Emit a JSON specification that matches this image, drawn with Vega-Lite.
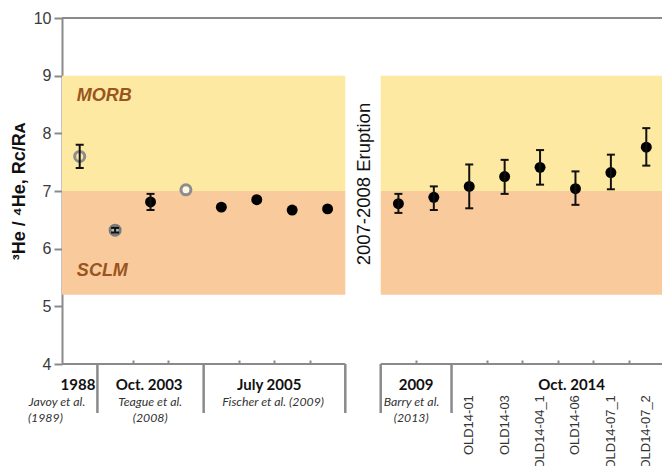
{
  "$schema": "https://vega.github.io/schema/vega-lite/v6.json",
  "autosize": {"type": "none"},
  "width": 602,
  "height": 346,
  "padding": {"left": 62, "top": 18, "right": 0, "bottom": 102},
  "background": "white",
  "config": {
    "view": {"stroke": null},
    "axis": {"grid": false, "labelFont": "Liberation Sans", "titleFont": "Liberation Sans"}
  },
  "datasets": {
    "zones": [
      {"x1": 0, "x2": 8, "y1": 7, "y2": 9, "zone": "MORB"},
      {"x1": 0, "x2": 8, "y1": 5.2, "y2": 7, "zone": "SCLM"},
      {"x1": 9, "x2": 17, "y1": 7, "y2": 9, "zone": "MORB"},
      {"x1": 9, "x2": 17, "y1": 5.2, "y2": 7, "zone": "SCLM"}
    ],
    "baseline": [{"x1": 0, "x2": 8}, {"x1": 9, "x2": 17}],
    "topline": [{"x1": 0, "x2": 17}],
    "dividers": [{"x": 1}, {"x": 4}, {"x": 8}, {"x": 9}, {"x": 11}],
    "samples": [
      {"x": 0.5, "v": 7.6, "lo": 7.4, "hi": 7.8, "style": "open"},
      {"x": 1.5, "v": 6.32, "lo": 6.28, "hi": 6.36, "style": "grey"},
      {"x": 2.5, "v": 6.81, "lo": 6.67, "hi": 6.95, "style": "filled"},
      {"x": 3.5, "v": 7.02, "lo": null, "hi": null, "style": "open2"},
      {"x": 4.5, "v": 6.72, "lo": null, "hi": null, "style": "filled"},
      {"x": 5.5, "v": 6.85, "lo": null, "hi": null, "style": "filled"},
      {"x": 6.5, "v": 6.67, "lo": null, "hi": null, "style": "filled"},
      {"x": 7.5, "v": 6.69, "lo": null, "hi": null, "style": "filled"},
      {"x": 9.5, "v": 6.78, "lo": 6.62, "hi": 6.95, "style": "filled"},
      {"x": 10.5, "v": 6.89, "lo": 6.67, "hi": 7.08, "style": "filled"},
      {"x": 11.5, "v": 7.08, "lo": 6.7, "hi": 7.46, "style": "filled"},
      {"x": 12.5, "v": 7.25, "lo": 6.95, "hi": 7.54, "style": "filled"},
      {"x": 13.5, "v": 7.41, "lo": 7.11, "hi": 7.71, "style": "filled"},
      {"x": 14.5, "v": 7.04, "lo": 6.76, "hi": 7.34, "style": "filled"},
      {"x": 15.5, "v": 7.32, "lo": 7.03, "hi": 7.63, "style": "filled"},
      {"x": 16.5, "v": 7.76, "lo": 7.44, "hi": 8.09, "style": "filled"}
    ],
    "headers": [
      {"text": "1988", "x": 0.45, "y": 3.636},
      {"text": "Oct. 2003", "x": 2.46, "y": 3.636},
      {"text": "July 2005", "x": 5.85, "y": 3.636},
      {"text": "2009", "x": 10.0, "y": 3.636},
      {"text": "Oct. 2014", "x": 14.39, "y": 3.636}
    ],
    "cites": [
      {"text": "Javoy et al.", "x": -0.14, "y": 3.34},
      {"text": "(1989)", "x": -0.47, "y": 3.06},
      {"text": "Teague et al.", "x": 2.49, "y": 3.34},
      {"text": "(2008)", "x": 2.49, "y": 3.06},
      {"text": "Fischer et al. (2009)", "x": 5.96, "y": 3.34},
      {"text": "Barry et al.", "x": 9.87, "y": 3.34},
      {"text": "(2013)", "x": 9.86, "y": 3.06}
    ],
    "names": [
      {"text": "OLD14-01", "x": 11.5},
      {"text": "OLD14-03", "x": 12.5},
      {"text": "OLD14-04_1", "x": 13.5},
      {"text": "OLD14-06", "x": 14.5},
      {"text": "OLD14-07_1", "x": 15.5},
      {"text": "OLD14-07_2", "x": 16.5}
    ],
    "zonelabels": [
      {"text": "MORB", "x": 0.42, "y": 8.65},
      {"text": "SCLM", "x": 0.42, "y": 5.61}
    ],
    "eruption": [{"text": "2007-2008 Eruption", "x": 8.52, "y": 7.12}]
  },
  "layer": [
    {
      "data": {"name": "zones"},
      "mark": {"type": "rect"},
      "encoding": {
        "x": {"field": "x1", "type": "quantitative", "scale": {"domain": [0, 17], "nice": false, "zero": false},
          "axis": {"title": null, "domain": false, "labels": false, "ticks": true, "tickSize": -4, "tickWidth": 2, "tickColor": "#8a8a8a",
            "values": [2, 3, 5, 6, 7, 10, 12, 13, 14, 15, 16]}},
        "x2": {"field": "x2"},
        "y": {"field": "y1", "type": "quantitative", "scale": {"domain": [4, 10], "nice": false, "zero": false},
          "axis": {"title": "³He / ⁴He, Rᴄ/Rᴀ", "titleFontSize": 18, "titleFontWeight": "bold", "titleColor": "#111", "titlePadding": 5,
            "values": [4, 4.5, 5, 5.5, 6, 6.5, 7, 7.5, 8, 8.5, 9, 9.5, 10],
            "labelExpr": "datum.value % 1 === 0 ? format(datum.value, 'd') : ''",
            "labelFontSize": 16, "labelColor": "#3a3a3a", "labelPadding": 3,
            "domainColor": "#8a8a8a", "domainWidth": 2, "tickColor": "#8a8a8a", "tickWidth": 2,
            "tickSize": {"condition": {"test": "datum.value % 1 === 0", "value": 8}, "value": -5}}},
        "y2": {"field": "y2"},
        "color": {"field": "zone", "type": "nominal", "scale": {"domain": ["MORB", "SCLM"], "range": ["#FDE9A1", "#F9CB9C"]}, "legend": null}
      }
    },
    {
      "data": {"name": "topline"},
      "mark": {"type": "rule", "color": "#8a8a8a", "strokeWidth": 2},
      "encoding": {
        "x": {"field": "x1", "type": "quantitative"},
        "x2": {"field": "x2"},
        "y": {"datum": 10, "type": "quantitative"}
      }
    },
    {
      "data": {"name": "baseline"},
      "mark": {"type": "rule", "color": "#8a8a8a", "strokeWidth": 2},
      "encoding": {
        "x": {"field": "x1", "type": "quantitative"},
        "x2": {"field": "x2"},
        "y": {"datum": 4, "type": "quantitative"}
      }
    },
    {
      "data": {"name": "dividers"},
      "mark": {"type": "rule", "color": "#8a8a8a", "strokeWidth": 2.5},
      "encoding": {
        "x": {"field": "x", "type": "quantitative"},
        "y": {"datum": 4, "type": "quantitative"},
        "y2": {"datum": 3.15}
      }
    },
    {
      "data": {"name": "samples"},
      "transform": [{"filter": "datum.style === 'filled'"}],
      "mark": {"type": "point", "shape": "circle", "filled": true, "color": "#000", "size": 120, "opacity": 1},
      "encoding": {
        "x": {"field": "x", "type": "quantitative"},
        "y": {"field": "v", "type": "quantitative"}
      }
    },
    {
      "data": {"name": "samples"},
      "transform": [{"filter": "datum.style === 'open'"}],
      "mark": {"type": "point", "shape": "circle", "filled": false, "stroke": "#8c8c8c", "strokeWidth": 3, "size": 100, "opacity": 1},
      "encoding": {
        "x": {"field": "x", "type": "quantitative"},
        "y": {"field": "v", "type": "quantitative"}
      }
    },
    {
      "data": {"name": "samples"},
      "transform": [{"filter": "datum.style === 'open2'"}],
      "mark": {"type": "point", "shape": "circle", "fill": "#FFF6E6", "stroke": "#8c8c8c", "strokeWidth": 3, "size": 100, "opacity": 1, "fillOpacity": 1},
      "encoding": {
        "x": {"field": "x", "type": "quantitative"},
        "y": {"field": "v", "type": "quantitative"}
      }
    },
    {
      "data": {"name": "samples"},
      "transform": [{"filter": "datum.style === 'grey'"}],
      "mark": {"type": "point", "shape": "circle", "fill": "#b5b5b5", "stroke": "#7a7a7a", "strokeWidth": 3, "size": 100, "opacity": 1, "fillOpacity": 1},
      "encoding": {
        "x": {"field": "x", "type": "quantitative"},
        "y": {"field": "v", "type": "quantitative"}
      }
    },
    {
      "data": {"name": "samples"},
      "transform": [{"filter": "isValid(datum.lo)"}],
      "mark": {"type": "rule", "color": "#111", "strokeWidth": 2},
      "encoding": {
        "x": {"field": "x", "type": "quantitative"},
        "y": {"field": "lo", "type": "quantitative"},
        "y2": {"field": "hi"}
      }
    },
    {
      "data": {"name": "samples"},
      "transform": [{"filter": "isValid(datum.lo)"}],
      "mark": {"type": "tick", "orient": "horizontal", "color": "#111", "size": 8, "thickness": 2, "opacity": 1},
      "encoding": {
        "x": {"field": "x", "type": "quantitative"},
        "y": {"field": "lo", "type": "quantitative"}
      }
    },
    {
      "data": {"name": "samples"},
      "transform": [{"filter": "isValid(datum.hi)"}],
      "mark": {"type": "tick", "orient": "horizontal", "color": "#111", "size": 8, "thickness": 2, "opacity": 1},
      "encoding": {
        "x": {"field": "x", "type": "quantitative"},
        "y": {"field": "hi", "type": "quantitative"}
      }
    },
    {
      "data": {"name": "zonelabels"},
      "mark": {"type": "text", "align": "left", "baseline": "middle", "font": "Liberation Sans", "fontSize": 18, "fontWeight": "bold", "fontStyle": "italic", "color": "#9A541F"},
      "encoding": {
        "x": {"field": "x", "type": "quantitative"},
        "y": {"field": "y", "type": "quantitative"},
        "text": {"field": "text"}
      }
    },
    {
      "data": {"name": "eruption"},
      "mark": {"type": "text", "align": "center", "baseline": "middle", "angle": 270, "font": "Liberation Sans", "fontSize": 18.5, "color": "#111"},
      "encoding": {
        "x": {"field": "x", "type": "quantitative"},
        "y": {"field": "y", "type": "quantitative"},
        "text": {"field": "text"}
      }
    },
    {
      "data": {"name": "headers"},
      "mark": {"type": "text", "align": "center", "baseline": "middle", "font": "Lato", "fontSize": 15, "fontWeight": "bold", "color": "#111"},
      "encoding": {
        "x": {"field": "x", "type": "quantitative"},
        "y": {"field": "y", "type": "quantitative"},
        "text": {"field": "text"}
      }
    },
    {
      "data": {"name": "cites"},
      "mark": {"type": "text", "align": "center", "baseline": "middle", "font": "Lato", "fontSize": 12.3, "fontStyle": "italic", "color": "#333"},
      "encoding": {
        "x": {"field": "x", "type": "quantitative"},
        "y": {"field": "y", "type": "quantitative"},
        "text": {"field": "text"}
      }
    },
    {
      "data": {"name": "names"},
      "mark": {"type": "text", "align": "right", "baseline": "middle", "angle": 270, "font": "Liberation Sans", "fontSize": 13, "color": "#333"},
      "encoding": {
        "x": {"field": "x", "type": "quantitative"},
        "y": {"datum": 3.46, "type": "quantitative"},
        "text": {"field": "text"}
      }
    }
  ]
}
